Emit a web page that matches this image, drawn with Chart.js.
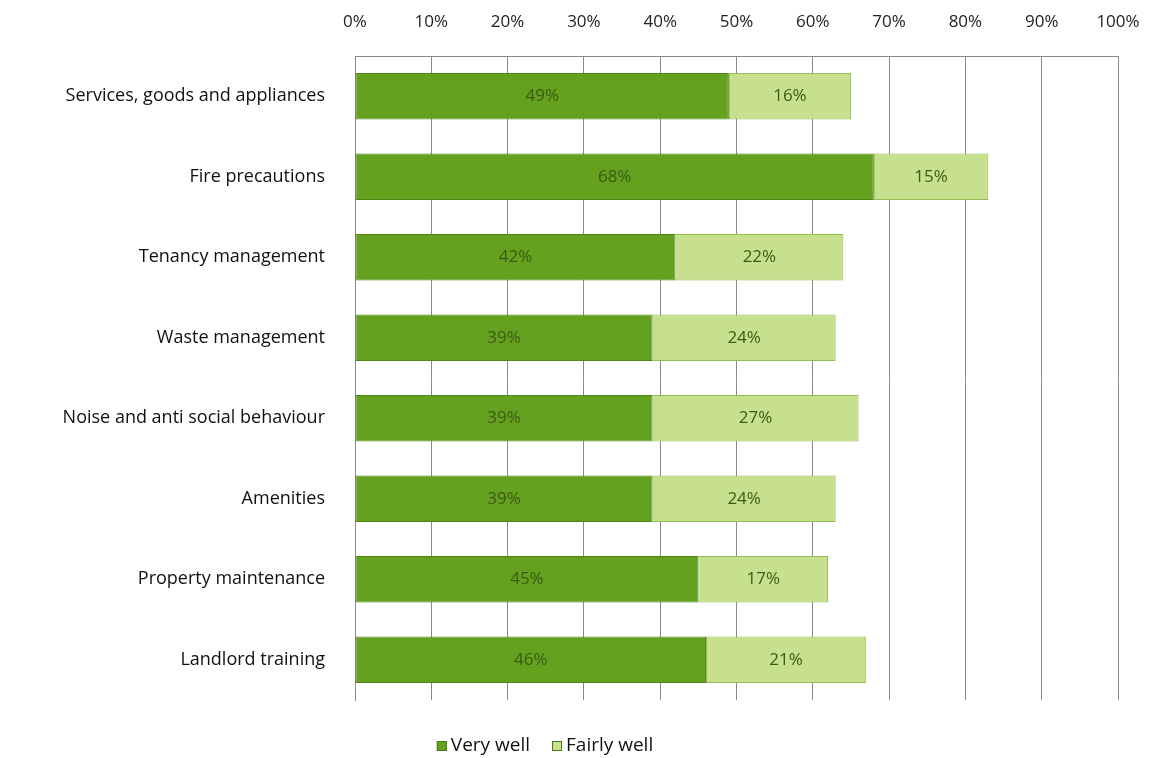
<!DOCTYPE html>
<html>
<head>
    <title>Landlord topics</title>
    <script src="https://cdn.jsdelivr.net/npm/chart.js"></script>
    <style>
        body { margin: 0; background: #fff; }
        #wrap { width: 1152px; height: 758px; }
    </style>
</head>
<body>
    <div id="wrap"><canvas id="topicChart" width="1152" height="758"></canvas></div>

    <script>
        const categories = [
            'Services, goods and appliances',
            'Fire precautions',
            'Tenancy management',
            'Waste management',
            'Noise and anti social behaviour',
            'Amenities',
            'Property maintenance',
            'Landlord training'
        ];
        const veryWell = [49, 68, 42, 39, 39, 39, 45, 46];
        const fairlyWell = [16, 15, 22, 24, 27, 24, 17, 21];
        const seriesNames = ['Very well', 'Fairly well'];

        const darkGreen = '#64a11f';
        const lightGreen = '#c6e08e';
        const font = "'Open Sans', 'Liberation Sans', sans-serif";

        // 막대 안의 숫자
        const barLabels = {
            id: 'barLabels',
            afterDatasetsDraw(chart) {
                const ctx = chart.ctx;
                ctx.save();
                ctx.font = '17px ' + font;
                ctx.fillStyle = '#3b5a14';
                ctx.textAlign = 'center';
                ctx.textBaseline = 'middle';
                chart.data.datasets.forEach((ds, i) => {
                    chart.getDatasetMeta(i).data.forEach((bar, j) => {
                        const mid = (bar.x + bar.base) / 2;
                        ctx.fillText(ds.data[j] + '%', mid, bar.y);
                    });
                });
                ctx.restore();
            }
        };

        // 아래쪽 범례
        const bottomLegend = {
            id: 'bottomLegend',
            afterDraw(chart) {
                const ctx = chart.ctx;
                ctx.save();
                ctx.font = '19px ' + font;
                ctx.textBaseline = 'middle';
                const y = 746;
                const w0 = ctx.measureText(seriesNames[0]).width;
                const w1 = ctx.measureText(seriesNames[1]).width;
                const total = 14 + w0 + 22 + 14 + w1;
                let x = 545 - total / 2;
                [[darkGreen, seriesNames[0], w0], [lightGreen, seriesNames[1], w1]].forEach(item => {
                    ctx.fillStyle = item[0];
                    ctx.fillRect(x, y - 5, 10, 10);
                    ctx.strokeStyle = '#4a7a18';
                    ctx.lineWidth = 1;
                    ctx.strokeRect(x + 0.5, y - 4.5, 9, 9);
                    ctx.fillStyle = '#111';
                    ctx.fillText(item[1], x + 14, y);
                    x += 14 + item[2] + 22;
                });
                ctx.restore();
            }
        };

        new Chart(document.getElementById('topicChart').getContext('2d'), {
            type: 'bar',
            data: {
                labels: categories,
                datasets: [{
                    label: seriesNames[0],
                    data: veryWell,
                    backgroundColor: darkGreen,
                    borderColor: '#4d8516',
                    borderWidth: 1,
                    borderSkipped: false,
                    barPercentage: 0.58,
                    categoryPercentage: 1
                }, {
                    label: seriesNames[1],
                    data: fairlyWell,
                    backgroundColor: lightGreen,
                    borderColor: '#93bd55',
                    borderWidth: 1,
                    borderSkipped: false,
                    barPercentage: 0.58,
                    categoryPercentage: 1
                }]
            },
            options: {
                indexAxis: 'y',
                responsive: false,
                animation: false,
                layout: { padding: { left: 0, right: 34, top: 0, bottom: 58 } },
                scales: {
                    x: {
                        position: 'top',
                        stacked: true,
                        min: 0,
                        max: 100,
                        ticks: {
                            stepSize: 10,
                            padding: 24,
                            color: '#222',
                            font: { family: font, size: 17 },
                            callback: v => v + '%'
                        },
                        grid: { color: '#8a8a8a', drawTicks: false },
                        border: { color: '#8a8a8a' },
                        afterFit: s => {
                            s.height = 56;
                            s.paddingLeft = 0;
                            s.paddingRight = 0;
                        }
                    },
                    y: {
                        stacked: true,
                        ticks: {
                            padding: 22,
                            color: '#111',
                            font: { family: font, size: 18 }
                        },
                        grid: { display: false },
                        border: { color: '#8a8a8a' },
                        afterFit: s => { s.width = 355; }
                    }
                },
                plugins: {
                    legend: { display: false },
                    tooltip: { enabled: false }
                }
            },
            plugins: [barLabels, bottomLegend]
        });
    </script>
</body>
</html>
